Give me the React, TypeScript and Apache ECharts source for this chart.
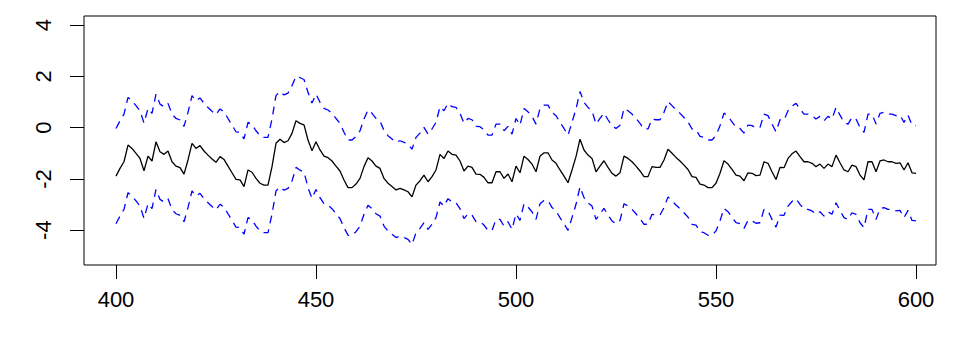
import React, { useEffect, useRef } from "react";
import * as echarts from "echarts";

// x runs 400..600 in steps of 1
const xStart = 400;

const meanValues = [
  -1.89, -1.59, -1.33, -0.68, -0.81, -1.0, -1.2, -1.68, -1.11, -1.3,
  -0.55, -0.94, -1.04, -0.91, -1.33, -1.5, -1.56, -1.81, -1.26, -0.61,
  -0.81, -0.7, -0.91, -1.07, -1.22, -1.35, -1.13, -1.24, -1.5, -1.76,
  -2.02, -2.04, -2.3, -1.65, -1.74, -1.98, -2.17, -2.24, -2.24, -1.52,
  -0.61, -0.45, -0.58, -0.51, -0.22, 0.27, 0.17, 0.11, -0.48, -0.9,
  -0.55, -0.87, -1.11, -1.17, -1.3, -1.5, -1.69, -2.04, -2.34, -2.34,
  -2.2, -1.98, -1.52, -1.17, -1.3, -1.5, -1.59, -1.98, -2.17, -2.3,
  -2.43, -2.37, -2.43, -2.5, -2.7, -2.24, -2.07, -1.85, -2.11, -1.91,
  -1.65, -1.04, -1.2, -0.91, -1.04, -1.07, -1.3, -1.69, -1.5, -1.55,
  -1.81, -1.82, -1.94, -2.15, -2.15, -1.72, -1.72, -1.98, -1.81, -2.11,
  -1.5, -1.76, -1.11, -1.24, -1.42, -1.72, -1.11, -0.98, -0.98, -1.26,
  -1.39, -1.65, -1.89, -2.15, -1.65, -1.13, -0.45, -0.87, -1.07, -1.2,
  -1.72, -1.5, -1.29, -1.55, -1.78, -1.89, -1.76, -1.11, -1.2, -1.33,
  -1.5, -1.69, -1.91, -1.91, -1.52, -1.55, -1.55, -1.26, -0.84, -1.0,
  -1.16, -1.3, -1.46, -1.63, -1.91, -1.94, -2.2, -2.24, -2.34, -2.34,
  -2.17, -1.78, -1.29, -1.42, -1.63, -1.85, -1.89, -2.07, -1.76, -1.78,
  -1.87, -1.85, -1.33, -1.39, -1.72, -2.02, -1.55, -1.56, -1.2, -1.02,
  -0.91, -1.13, -1.33, -1.33, -1.39, -1.52, -1.42, -1.59, -1.42, -1.52,
  -1.07, -1.37, -1.65, -1.72, -1.46, -1.52, -1.85, -2.04, -1.33, -1.33,
  -1.72, -1.3, -1.26, -1.33, -1.33, -1.39, -1.37, -1.65, -1.37, -1.76,
  -1.78,
];

const upperValues = [
  -0.03, 0.27, 0.53, 1.18, 1.05, 0.86, 0.66, 0.18, 0.75, 0.56,
  1.31, 0.92, 0.82, 0.95, 0.53, 0.36, 0.3, 0.05, 0.6, 1.25,
  1.05, 1.16, 0.95, 0.79, 0.64, 0.51, 0.73, 0.62, 0.36, 0.1,
  -0.16, -0.18, -0.44, 0.21, 0.12, -0.12, -0.31, -0.38, -0.38, 0.34,
  1.25, 1.41, 1.28, 1.35, 1.64, 2.0, 1.95, 1.88, 1.38, 0.96,
  1.31, 0.99, 0.75, 0.69, 0.56, 0.36, 0.17, -0.18, -0.48, -0.48,
  -0.34, -0.12, 0.34, 0.69, 0.56, 0.36, 0.27, -0.12, -0.31, -0.44,
  -0.57, -0.51, -0.57, -0.64, -0.84, -0.38, -0.21, 0.01, -0.25, -0.05,
  0.21, 0.82, 0.66, 0.95, 0.82, 0.79, 0.56, 0.17, 0.36, 0.31,
  0.05, 0.04, -0.08, -0.29, -0.29, 0.14, 0.14, -0.12, 0.05, -0.25,
  0.36, 0.1, 0.75, 0.62, 0.44, 0.14, 0.75, 0.88, 0.88, 0.6,
  0.47, 0.21, -0.03, -0.29, 0.21, 0.73, 1.41, 0.99, 0.79, 0.66,
  0.14, 0.36, 0.57, 0.31, 0.08, -0.03, 0.1, 0.75, 0.66, 0.53,
  0.36, 0.17, -0.05, -0.05, 0.34, 0.31, 0.31, 0.6, 1.02, 0.86,
  0.7, 0.56, 0.4, 0.23, -0.05, -0.08, -0.34, -0.38, -0.48, -0.48,
  -0.31, 0.08, 0.57, 0.44, 0.23, 0.01, -0.03, -0.21, 0.1, 0.08,
  -0.01, 0.01, 0.53, 0.47, 0.14, -0.16, 0.31, 0.3, 0.66, 0.84,
  0.95, 0.73, 0.53, 0.53, 0.47, 0.34, 0.44, 0.27, 0.44, 0.34,
  0.79, 0.49, 0.21, 0.14, 0.4, 0.34, 0.01, -0.18, 0.53, 0.53,
  0.14, 0.56, 0.6, 0.53, 0.53, 0.47, 0.49, 0.21, 0.49, 0.1,
  0.08,
];

const lowerValues = [
  -3.75, -3.45, -3.19, -2.54, -2.67, -2.86, -3.06, -3.54, -2.97, -3.16,
  -2.41, -2.8, -2.9, -2.77, -3.19, -3.36, -3.42, -3.67, -3.12, -2.47,
  -2.67, -2.56, -2.77, -2.93, -3.08, -3.21, -2.99, -3.1, -3.36, -3.62,
  -3.88, -3.9, -4.16, -3.51, -3.6, -3.84, -4.03, -4.1, -4.1, -3.38,
  -2.47, -2.31, -2.44, -2.37, -2.08, -1.55, -1.66, -1.73, -2.34, -2.76,
  -2.41, -2.73, -2.97, -3.03, -3.16, -3.36, -3.55, -3.9, -4.2, -4.2,
  -4.06, -3.84, -3.38, -3.03, -3.16, -3.36, -3.45, -3.84, -4.03, -4.16,
  -4.29, -4.23, -4.29, -4.36, -4.56, -4.1, -3.93, -3.71, -3.97, -3.77,
  -3.51, -2.9, -3.06, -2.77, -2.9, -2.93, -3.16, -3.55, -3.36, -3.41,
  -3.67, -3.68, -3.8, -4.01, -4.01, -3.58, -3.58, -3.84, -3.67, -3.97,
  -3.36, -3.62, -2.97, -3.1, -3.28, -3.58, -2.97, -2.84, -2.84, -3.12,
  -3.25, -3.51, -3.75, -4.01, -3.51, -2.99, -2.31, -2.73, -2.93, -3.06,
  -3.58, -3.36, -3.15, -3.41, -3.64, -3.75, -3.62, -2.97, -3.06, -3.19,
  -3.36, -3.55, -3.77, -3.77, -3.38, -3.41, -3.41, -3.12, -2.7, -2.86,
  -3.02, -3.16, -3.32, -3.49, -3.77, -3.8, -4.06, -4.1, -4.2, -4.2,
  -4.03, -3.64, -3.15, -3.28, -3.49, -3.71, -3.75, -3.93, -3.62, -3.64,
  -3.73, -3.71, -3.19, -3.25, -3.58, -3.88, -3.41, -3.42, -3.06, -2.88,
  -2.77, -2.99, -3.19, -3.19, -3.25, -3.38, -3.28, -3.45, -3.28, -3.38,
  -2.93, -3.23, -3.51, -3.58, -3.32, -3.38, -3.71, -3.9, -3.19, -3.19,
  -3.58, -3.16, -3.12, -3.19, -3.19, -3.25, -3.23, -3.51, -3.23, -3.62,
  -3.64,
];

const xTicks = [400, 450, 500, 550, 600];
const yTicks = [-4, -2, 0, 2, 4];

const FONT = "Liberation Sans, Arial, Helvetica, sans-serif";

export default function App() {
  const ref = useRef<HTMLDivElement>(null);

  useEffect(() => {
    if (!ref.current) return;
    const chart = echarts.init(ref.current, null, { renderer: "svg" });
    const toPairs = (vals: number[]) => vals.map((v, i) => [xStart + i, v]);
    chart.setOption({
      animation: false,
      backgroundColor: "#ffffff",
      grid: {
        left: 84,
        top: 16,
        width: 852,
        height: 249,
        show: true,
        borderColor: "#000000",
        borderWidth: 1,
        backgroundColor: "transparent",
      },
      xAxis: {
        type: "value",
        min: 392,
        max: 605,
        position: "bottom",
        axisLine: { show: false, onZero: false },
        splitLine: { show: false },
        axisTick: {
          show: true,
          length: 14,
          customValues: xTicks,
          lineStyle: { color: "#000000", width: 1 },
        },
        axisLabel: {
          customValues: xTicks,
          margin: 23,
          fontSize: 22,
          color: "#000000",
          fontFamily: FONT,
        },
      },
      yAxis: {
        type: "value",
        min: -5.36,
        max: 4.36,
        position: "left",
        axisLine: { show: false, onZero: false },
        splitLine: { show: false },
        axisTick: {
          show: true,
          length: 14,
          customValues: yTicks,
          lineStyle: { color: "#000000", width: 1 },
        },
        axisLabel: {
          customValues: yTicks,
          rotate: 90,
          margin: 30,
          fontSize: 22,
          color: "#000000",
          fontFamily: FONT,
        },
      },
      series: [
        {
          type: "line",
          data: toPairs(meanValues),
          symbol: "none",
          lineStyle: { color: "#000000", width: 1.3 },
        },
        {
          type: "line",
          data: toPairs(upperValues),
          symbol: "none",
          lineStyle: { color: "#0000ff", width: 1.3, type: [8, 6] },
        },
        {
          type: "line",
          data: toPairs(lowerValues),
          symbol: "none",
          lineStyle: { color: "#0000ff", width: 1.3, type: [8, 6] },
        },
      ],
    });
    return () => chart.dispose();
  }, []);

  return (
    <div
      ref={ref}
      style={{ position: "fixed", left: 0, top: 0, width: 978, height: 344 }}
    />
  );
}
